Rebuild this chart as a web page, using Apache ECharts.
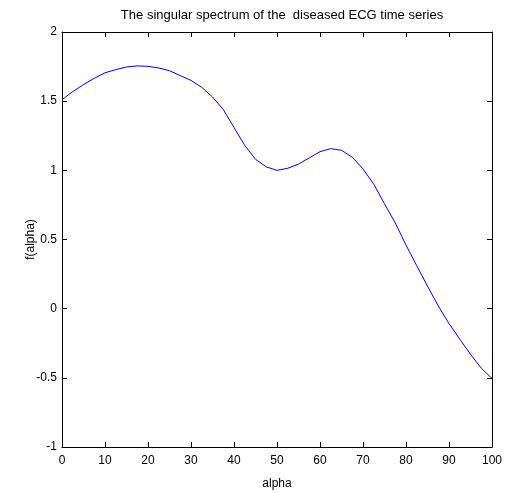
<!DOCTYPE html>
<html>
<head>
<meta charset="utf-8">
<script src="https://cdn.jsdelivr.net/npm/echarts@6/dist/echarts.min.js"></script>
<style>html,body{margin:0;padding:0;background:#fff}#c{width:505px;height:493px}</style>
</head>
<body>
<div id="c"></div>
<script>
var alpha = [0,2.5,5,7.5,10,12.5,15,17.5,20,22.5,25,27.5,30,32.5,35,37.5,40,42.5,45,47.5,50,52.5,55,57.5,60,62.5,65,67.5,70,72.5,75,77.5,80,82.5,85,87.5,90,92.5,95,97.5,100];
var fAlpha = [1.51,1.57,1.62,1.665,1.705,1.728,1.747,1.755,1.752,1.74,1.72,1.685,1.65,1.60,1.53,1.44,1.31,1.18,1.08,1.025,1.0,1.015,1.045,1.09,1.135,1.157,1.145,1.095,1.01,0.9,0.758,0.62,0.46,0.31,0.163,0.02,-0.108,-0.22,-0.33,-0.43,-0.505];
var xTicks = [0,10,20,30,40,50,60,70,80,90,100];
var yTicks = [-1,-0.5,0,0.5,1,1.5,2];

var data = alpha.map(function(a,i){return [a,fAlpha[i]];});
var font = 'Liberation Sans, Arial, sans-serif';
var chart = echarts.init(document.getElementById('c'), null, {renderer:'canvas'});
var axLine = {show:true, onZero:false, lineStyle:{color:'#000', width:1}};
var tick = {show:true, inside:true, length:5, lineStyle:{color:'#000'}};
chart.setOption({
  animation:false,
  backgroundColor:'#fff',
  title:{text:'The singular spectrum of the  diseased ECG time series', left:277, top:4, textAlign:'center',
    textStyle:{fontFamily:font, fontSize:13, fontWeight:'normal', color:'#000'}},
  grid:{left:62, right:13, top:32, bottom:46, show:false, outerBoundsMode:'none', containLabel:false},
  xAxis:[{type:'value', min:0, max:100, interval:10, position:'bottom',
    name:'alpha', nameLocation:'middle', nameGap:31, nameMoveOverlap:false, nameTextStyle:{fontFamily:font, fontSize:12, color:'#000'},
    axisLine:axLine, axisTick:tick, splitLine:{show:false},
    axisLabel:{fontFamily:font, fontSize:12, color:'#000', margin:8}},
    {type:'value', min:0, max:100, interval:10, position:'top',
    axisLine:axLine, axisTick:tick, splitLine:{show:false}, axisLabel:{show:false}}],
  yAxis:[{type:'value', min:-1, max:2, interval:0.5, position:'left',
    name:'f(alpha)', nameLocation:'middle', nameGap:25, nameMoveOverlap:false, nameRotate:90, nameTextStyle:{fontFamily:font, fontSize:12, color:'#000'},
    axisLine:axLine, axisTick:tick, splitLine:{show:false},
    axisLabel:{fontFamily:font, fontSize:12, color:'#000', margin:5}},
    {type:'value', min:-1, max:2, interval:0.5, position:'right',
    axisLine:axLine, axisTick:tick, splitLine:{show:false}, axisLabel:{show:false}}],
  series:[{type:'line', data:data, showSymbol:false, smooth:false,
    lineStyle:{color:'#0000ff', width:1}, xAxisIndex:0, yAxisIndex:0}]
});
</script>
</body>
</html>
